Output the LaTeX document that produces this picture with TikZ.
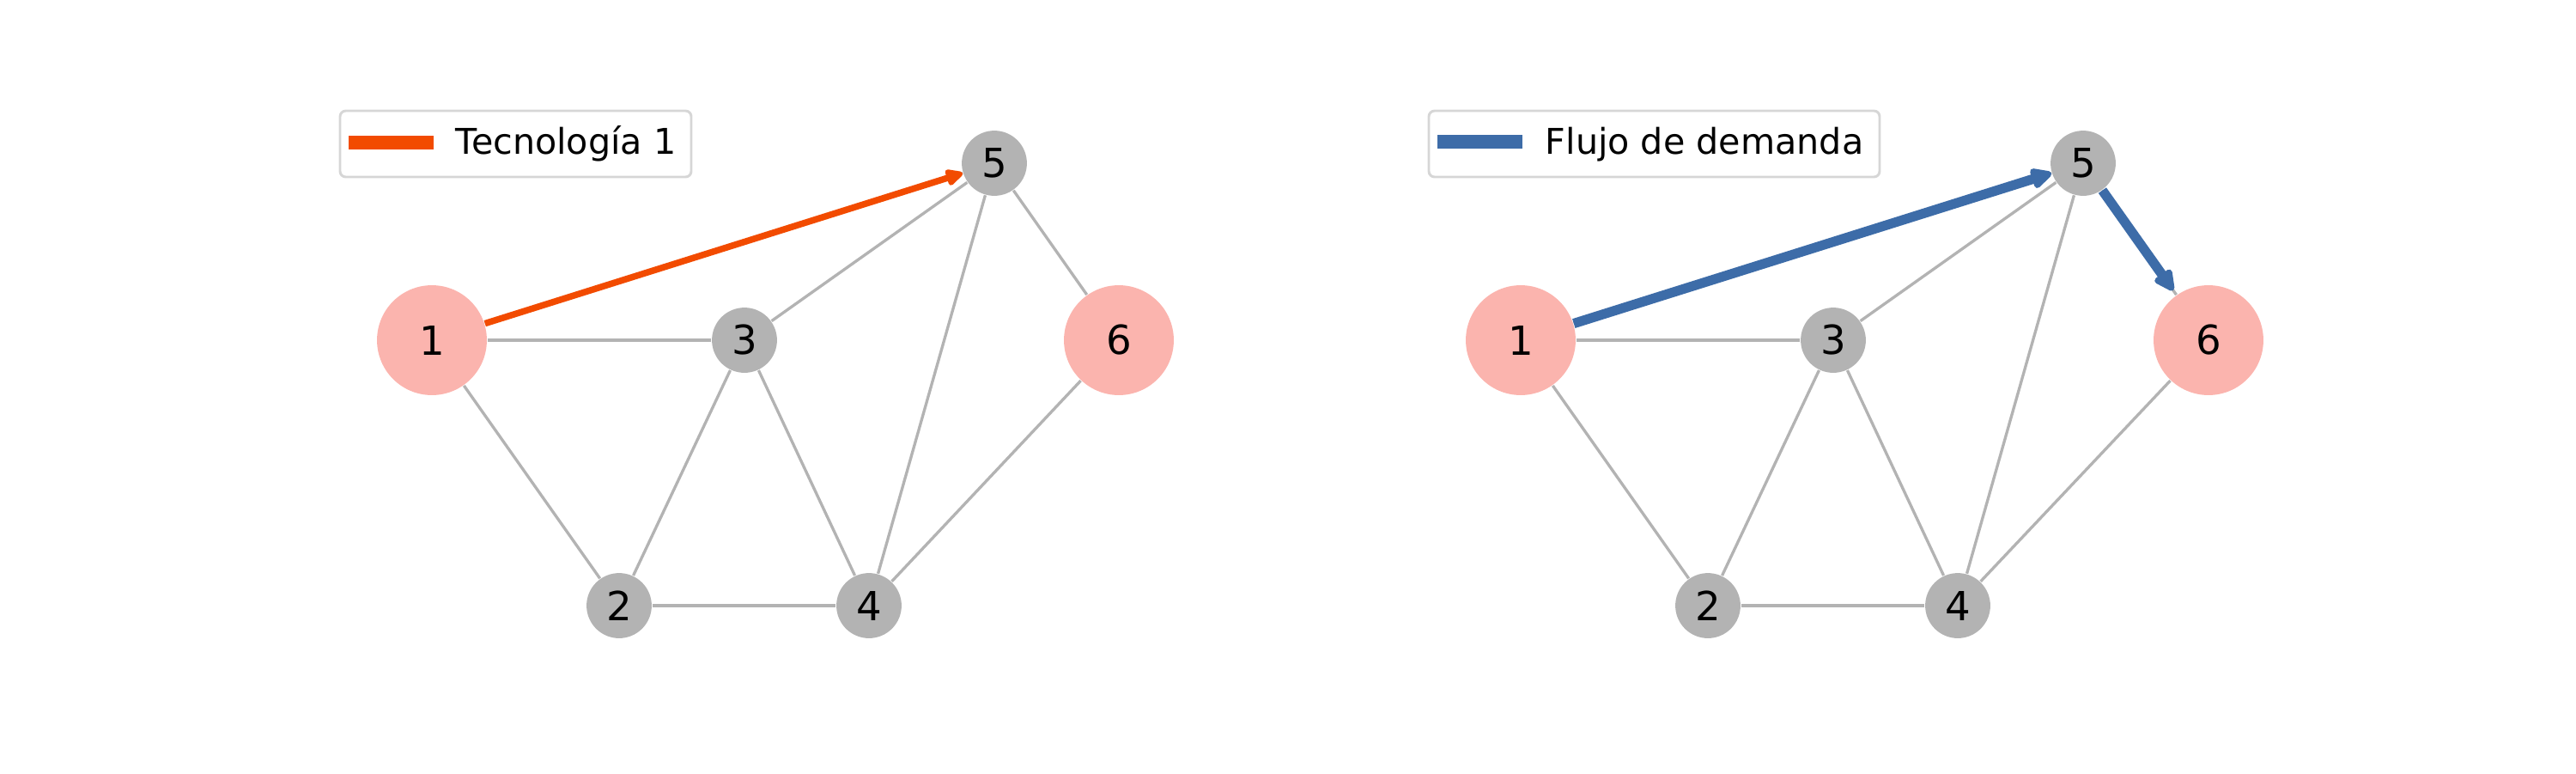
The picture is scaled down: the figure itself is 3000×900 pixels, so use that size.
\documentclass[tikz,border=0pt]{standalone}
\usepackage{fontspec}
\setmainfont{DejaVu Sans}
\usetikzlibrary{arrows.meta}
\definecolor{pinkn}{HTML}{FBB4AE}
\definecolor{grayn}{HTML}{B3B3B3}
\definecolor{edgeg}{HTML}{B3B3B3}
\definecolor{orangef}{RGB}{242,75,0}
\definecolor{bluef}{RGB}{61,108,168}
\definecolor{legb}{HTML}{D6D6D6}
\tikzset{
  big/.style={circle, fill=pinkn, inner sep=0pt, minimum size=30.7pt, font=\fontsize{11.2}{13}\selectfont},
  small/.style={circle, fill=grayn, inner sep=0pt, minimum size=18.2pt, font=\fontsize{11.2}{13}\selectfont},
  edge/.style={draw=edgeg, line width=0.8pt},
  orangearrow/.style={draw=orangef, line width=1.8pt, -{Triangle[length=5.6pt, width=5pt, round]}},
  bluearrow/.style={draw=bluef, line width=2.7pt, -{Triangle[length=6.8pt, width=6.2pt, round]}},
  legbox/.style={draw=legb, line width=0.7pt, rounded corners=1.6pt, fill=white},
  legtext/.style={anchor=base west, inner sep=0pt, font=\fontsize{9.9}{12}\selectfont}
}
\begin{document}
\begin{tikzpicture}[x=0.24pt, y=-0.24pt]
\useasboundingbox (0,0) rectangle (3000,900);
% ---------- left panel ----------
\node[big]   (a1) at (503,396) {1};
\node[small] (a2) at (721,705) {2};
\node[small] (a3) at (867,396) {3};
\node[small] (a4) at (1012,705) {4};
\node[small] (a5) at (1158,190) {5};
\node[big]   (a6) at (1303,396) {6};
\draw[edge] (a1) -- (a3);
\draw[edge] (a1) -- (a2);
\draw[edge] (a2) -- (a3);
\draw[edge] (a3) -- (a4);
\draw[edge] (a2) -- (a4);
\draw[edge] (a3) -- (a5);
\draw[edge] (a4) -- (a5);
\draw[edge] (a5) -- (a6);
\draw[edge] (a4) -- (a6);
\draw[edge] (a1) -- (a5);
\draw[orangearrow] (a1) -- (a5);
\draw[legbox] (396,129) rectangle (805,206);
\coordinate (la0) at (406,166);
\coordinate (la1) at (505,166);
\draw[orangef, line width=4pt] (la0) -- (la1);
\node[legtext] (lt1) at (530,179) {Tecnología 1};
% ---------- right panel ----------
\node[big]   (b1) at (1771,396) {1};
\node[small] (b2) at (1989,705) {2};
\node[small] (b3) at (2135,396) {3};
\node[small] (b4) at (2280,705) {4};
\node[small] (b5) at (2426,190) {5};
\node[big]   (b6) at (2572,396) {6};
\draw[edge] (b1) -- (b3);
\draw[edge] (b1) -- (b2);
\draw[edge] (b2) -- (b3);
\draw[edge] (b3) -- (b4);
\draw[edge] (b2) -- (b4);
\draw[edge] (b3) -- (b5);
\draw[edge] (b4) -- (b5);
\draw[edge] (b5) -- (b6);
\draw[edge] (b4) -- (b6);
\draw[edge] (b1) -- (b5);
\draw[bluearrow] (b1) -- (b5);
\draw[bluearrow, shorten >=1.5pt] (b5) -- (b6);
\draw[legbox] (1664,129) rectangle (2189,206);
\coordinate (lb0) at (1674,165);
\coordinate (lb1) at (1773,165);
\draw[bluef, line width=4pt] (lb0) -- (lb1);
\node[legtext] (lt2) at (1799,179) {Flujo de demanda};
\end{tikzpicture}
\end{document}
